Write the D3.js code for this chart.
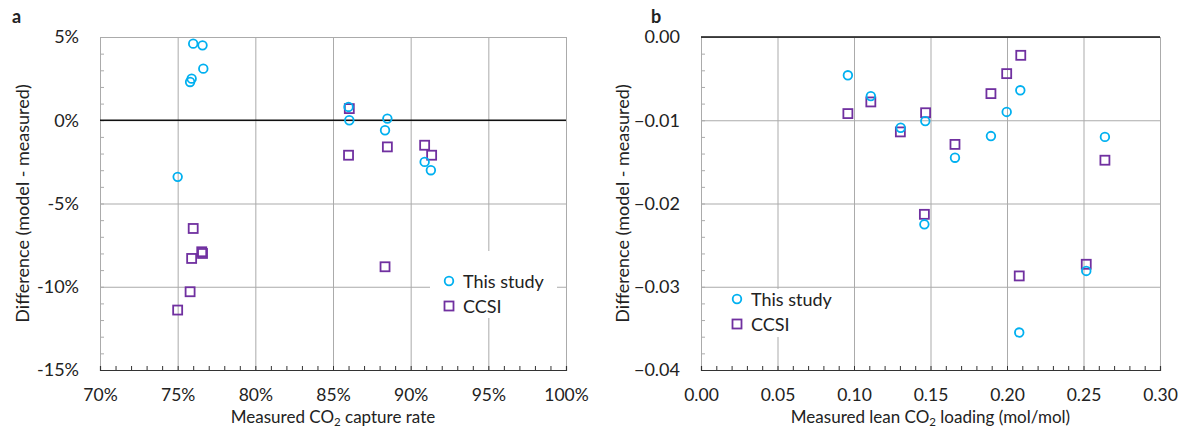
<!DOCTYPE html>
<html>
<head>
<meta charset="utf-8">
<script src="https://cdn.jsdelivr.net/npm/d3@7"></script>
<style>
  body { margin: 0; background: #fff; }
  svg text { font-family: Lato, "Open Sans", sans-serif; fill: #222; }
</style>
</head>
<body>
<svg id="chart" width="1180" height="429"></svg>
<script>
// ---- Panel a: difference vs measured CO2 capture rate (%) ----
const captureRate      = [76.0, 76.6, 76.65, 75.9, 75.8, 75.0, 86.0, 86.05, 88.5, 88.35, 90.9, 91.3];
const captureDiffStudy = [4.6, 4.5, 3.1, 2.5, 2.3, -3.4, 0.8, 0.0, 0.1, -0.6, -2.5, -3.0];
const captureRateCCSI  = [76.0, 76.6, 76.55, 75.9, 75.8, 75.0, 86.05, 86.0, 88.5, 88.35, 90.9, 91.35];
const captureDiffCCSI  = [-6.5, -8.0, -7.9, -8.3, -10.3, -11.4, 0.7, -2.1, -1.6, -8.8, -1.5, -2.1];
const captureXTicks    = [70, 75, 80, 85, 90, 95, 100];
const captureYTicks    = [5, 0, -5, -10, -15];

// ---- Panel b: difference vs measured lean CO2 loading (mol/mol) ----
const leanLoading      = [0.096, 0.111, 0.1305, 0.1466, 0.166, 0.1895, 0.1998, 0.2087, 0.146, 0.208, 0.2518, 0.264];
const leanDiffStudy    = [-0.0046, -0.0071, -0.0109, -0.0101, -0.0145, -0.0119, -0.0090, -0.0064, -0.0225, -0.0355, -0.0281, -0.0120];
const leanLoadingCCSI  = [0.096, 0.111, 0.1303, 0.1468, 0.166, 0.1895, 0.1998, 0.209, 0.146, 0.208, 0.2518, 0.264];
const leanDiffCCSI     = [-0.0092, -0.0078, -0.0114, -0.0091, -0.0129, -0.0068, -0.0044, -0.0022, -0.0213, -0.0287, -0.0273, -0.0148];
const leanXTicks       = [0, 0.05, 0.10, 0.15, 0.20, 0.25, 0.30];
const leanYTicks       = [0, -0.01, -0.02, -0.03, -0.04];

const seriesNames = ["This study", "CCSI"];
const studyColor = "#00b0f0";
const ccsiColor  = "#7030a0";
const gridColor  = "#ababab";

const svg = d3.select("#chart");

function drawPanel(cfg) {
  const x = d3.scaleLinear().domain(cfg.xDomain).range([cfg.left, cfg.right]);
  const y = d3.scaleLinear().domain(cfg.yDomain).range([cfg.bottom, cfg.top]);
  const g = svg.append("g");
  const h = cfg.bottom - cfg.top, w = cfg.right - cfg.left;

  // major gridlines
  g.append("g").attr("transform", `translate(0,${cfg.bottom})`)
    .call(d3.axisBottom(x).tickValues(cfg.xTicks).tickSize(-h).tickFormat(""))
    .call(s => s.select(".domain").remove())
    .call(s => s.selectAll("line").attr("stroke", gridColor));
  g.append("g").attr("transform", `translate(${cfg.left},0)`)
    .call(d3.axisLeft(y).tickValues(cfg.yTicks).tickSize(-w).tickFormat(""))
    .call(s => s.select(".domain").remove())
    .call(s => s.selectAll("line").attr("stroke", gridColor));

  // minor ticks (inside)
  const xMinor = d3.range(cfg.xDomain[0], cfg.xDomain[1] + cfg.xMinorStep / 2, cfg.xMinorStep);
  const yMinor = d3.range(cfg.yDomain[0], cfg.yDomain[1] + cfg.yMinorStep / 2, cfg.yMinorStep);
  g.append("g").attr("transform", `translate(${cfg.left},0)`)
    .call(d3.axisLeft(y).tickValues(yMinor).tickSize(-4).tickFormat(""))
    .call(s => s.select(".domain").attr("stroke", gridColor))
    .call(s => s.selectAll("line").attr("stroke", gridColor));
  g.append("g").attr("transform", `translate(0,${cfg.bottom})`)
    .call(d3.axisBottom(x).tickValues(xMinor).tickSize(-4).tickFormat(""))
    .call(s => s.select(".domain").attr("stroke", "#333").attr("stroke-width", 1.2))
    .call(s => s.selectAll("line").attr("stroke", "#333"));

  // zero line
  g.append("line")
    .attr("x1", cfg.left).attr("x2", cfg.right)
    .attr("y1", y(0)).attr("y2", y(0))
    .attr("stroke", "#111").attr("stroke-width", 1.6);

  // tick labels
  g.append("g").attr("transform", `translate(0,${cfg.bottom})`)
    .call(d3.axisBottom(x).tickValues(cfg.xTicks).tickSize(0).tickPadding(19).tickFormat(cfg.xFormat))
    .call(s => s.select(".domain").remove())
    .call(s => s.selectAll("text").attr("font-size", 17.5).attr("fill", "#222")
      .attr("font-family", "Lato, 'Open Sans', sans-serif"));
  g.append("g").attr("transform", `translate(${cfg.left},0)`)
    .call(d3.axisLeft(y).tickValues(cfg.yTicks).tickSize(0).tickPadding(21).tickFormat(cfg.yFormat))
    .call(s => s.select(".domain").remove())
    .call(s => s.selectAll("text").attr("font-size", 18).attr("fill", "#222")
      .attr("font-family", "Lato, 'Open Sans', sans-serif"));

  // axis titles
  const xt = g.append("text")
    .attr("x", (cfg.left + cfg.right) / 2).attr("y", 423)
    .attr("text-anchor", "middle").attr("font-size", 17);
  xt.append("tspan").text(cfg.xTitle[0]);
  xt.append("tspan").attr("font-size", 11.5).attr("dy", 2.5).text("2");
  xt.append("tspan").attr("dy", -2.5).text(cfg.xTitle[1]);

  g.append("text")
    .attr("transform", `translate(${cfg.yTitleX},${(cfg.top + cfg.bottom) / 2}) rotate(-90)`)
    .attr("text-anchor", "middle").attr("font-size", 18)
    .text("Difference (model - measured)");

  // panel letter
  g.append("text").attr("x", cfg.letterX).attr("y", 23)
    .attr("font-size", 18).attr("font-weight", "bold").attr("fill", "#000")
    .text(cfg.letter);

  // legend
  const lg = g.append("g");
  lg.append("rect")
    .attr("x", cfg.legend.x).attr("y", cfg.legend.y)
    .attr("width", cfg.legend.w).attr("height", cfg.legend.h)
    .attr("fill", "#fff");
  const mx = cfg.legend.x + cfg.legend.markerDx;
  const row0 = cfg.legend.y + cfg.legend.row0;
  lg.append("circle").attr("cx", mx).attr("cy", row0).attr("r", 4.3)
    .attr("fill", "none").attr("stroke", studyColor).attr("stroke-width", 1.8);
  lg.append("rect").attr("x", mx - 4.5).attr("y", row0 + 25 - 4.5).attr("width", 9).attr("height", 9)
    .attr("fill", "none").attr("stroke", ccsiColor).attr("stroke-width", 1.8);
  seriesNames.forEach((name, i) => {
    lg.append("text").attr("x", mx + 14).attr("y", row0 + i * 25 + 7)
      .attr("font-size", 18).text(name);
  });

  // points
  const studyPts = cfg.xs.map((v, i) => [v, cfg.study[i]]);
  const ccsiPts = cfg.xsC.map((v, i) => [v, cfg.ccsi[i]]);
  g.append("g").selectAll("rect").data(ccsiPts).join("rect")
    .attr("x", d => x(d[0]) - 4.5).attr("y", d => y(d[1]) - 4.5)
    .attr("width", 9).attr("height", 9)
    .attr("fill", "none").attr("stroke", ccsiColor).attr("stroke-width", 1.8);
  g.append("g").selectAll("circle").data(studyPts).join("circle")
    .attr("cx", d => x(d[0])).attr("cy", d => y(d[1])).attr("r", 4.3)
    .attr("fill", "none").attr("stroke", studyColor).attr("stroke-width", 1.8);
}

drawPanel({
  left: 100, right: 566, top: 37, bottom: 370,
  xDomain: [70, 100], yDomain: [-15, 5],
  xTicks: captureXTicks, yTicks: captureYTicks,
  xMinorStep: 1, yMinorStep: 1,
  xFormat: d => d + "%", yFormat: d => d + "%",
  xTitle: ["Measured CO", " capture rate"],
  yTitleX: 29, letter: "a", letterX: 12,
  legend: { x: 430, y: 251, w: 127, h: 67, markerDx: 19, row0: 30 },
  xs: captureRate, study: captureDiffStudy, xsC: captureRateCCSI, ccsi: captureDiffCCSI
});

drawPanel({
  left: 701, right: 1160, top: 37, bottom: 370,
  xDomain: [0, 0.30], yDomain: [-0.04, 0],
  xTicks: leanXTicks, yTicks: leanYTicks,
  xMinorStep: 0.01, yMinorStep: 0.002,
  xFormat: d3.format(".2f"), yFormat: d3.format(".2f"),
  xTitle: ["Measured lean CO", " loading (mol/mol)"],
  yTitleX: 629, letter: "b", letterX: 651,
  legend: { x: 720, y: 289, w: 125, h: 48, markerDx: 17, row0: 10 },
  xs: leanLoading, study: leanDiffStudy, xsC: leanLoadingCCSI, ccsi: leanDiffCCSI
});
</script>
</body>
</html>
